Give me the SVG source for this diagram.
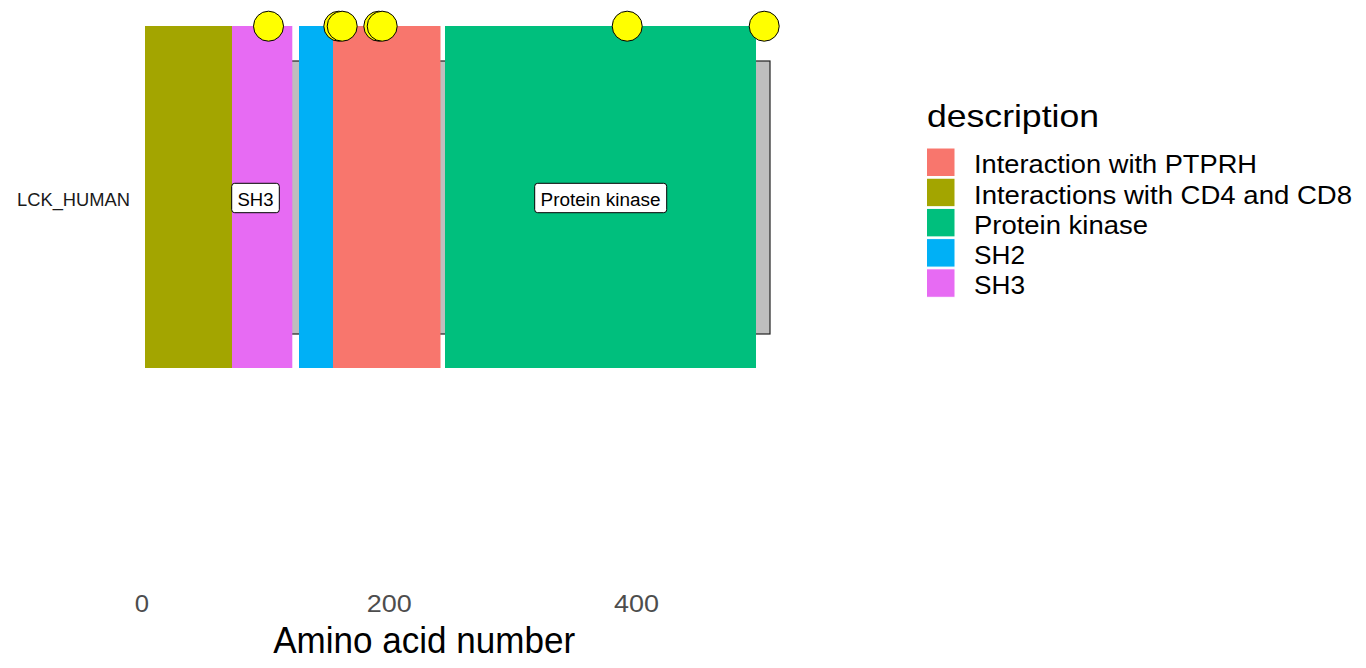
<svg xmlns="http://www.w3.org/2000/svg" width="1366" height="668" viewBox="0 0 1366 668">
<style>
text{font-family:"Liberation Sans",Arial,sans-serif}
.pt{fill:#FFFF00;stroke:#000;stroke-width:1}
.lab{fill:#fff;stroke:#000;stroke-width:1}
.labt{font-size:18px;fill:#000;text-anchor:middle}
.tick{font-size:24px;fill:#4D4D4D;text-anchor:middle}
.leg{font-size:25px;fill:#000}
.key{stroke:#fff;stroke-width:1}
</style>
<rect width="1366" height="668" fill="#fff"/>
<g id="backbone"><rect x="147" y="61" width="623" height="273" fill="#BEBEBE" stroke="#222" stroke-width="1.2"/></g>
<g id="domains">
<rect id="d-cd4cd8" x="145" y="26" width="87" height="342" fill="#A3A500"/>
<rect id="d-sh3" x="232" y="26" width="60.3" height="342" fill="#E76BF3"/>
<rect id="d-sh2" x="299" y="26" width="34" height="342" fill="#00B0F6"/>
<rect id="d-ptprh" x="333" y="26" width="107.5" height="342" fill="#F8766D"/>
<rect id="d-kinase" x="445" y="26" width="311" height="342" fill="#00BF7D"/>
</g>
<g id="sites">
<circle class="pt" cx="268.5" cy="26.2" r="15"/>
<circle class="pt" cx="338.8" cy="26.2" r="15"/>
<circle class="pt" cx="342.2" cy="26.2" r="15"/>
<circle class="pt" cx="378.8" cy="26.2" r="15"/>
<circle class="pt" cx="382.2" cy="26.2" r="15"/>
<circle class="pt" cx="627.2" cy="26.2" r="15"/>
<circle class="pt" cx="764.2" cy="26.2" r="15"/>
</g>
<g id="label-sh3">
<rect class="lab" x="231.7" y="183.3" width="47.6" height="29.4" rx="3"/>
<text class="labt" x="255.5" y="206" textLength="36" lengthAdjust="spacingAndGlyphs">SH3</text>
</g>
<g id="label-kinase">
<rect class="lab" x="534.7" y="183.3" width="132" height="29.4" rx="3"/>
<text class="labt" x="600.5" y="206" textLength="120" lengthAdjust="spacingAndGlyphs">Protein kinase</text>
</g>
<g id="y-axis">
<text x="130" y="206" font-size="18" fill="#1A1A1A" text-anchor="end" textLength="113" lengthAdjust="spacingAndGlyphs">LCK_HUMAN</text>
</g>
<g id="x-axis">
<text class="tick" x="142" y="612" textLength="14.3" lengthAdjust="spacingAndGlyphs">0</text>
<text class="tick" x="389.2" y="612" textLength="45" lengthAdjust="spacingAndGlyphs">200</text>
<text class="tick" x="636.4" y="612" textLength="45" lengthAdjust="spacingAndGlyphs">400</text>
<text x="424.2" y="652.7" font-size="36" fill="#000" text-anchor="middle" textLength="302" lengthAdjust="spacingAndGlyphs">Amino acid number</text>
</g>
<g id="legend">
<text x="927" y="126.7" font-size="32" fill="#000" textLength="172" lengthAdjust="spacingAndGlyphs">description</text>
<rect class="key" x="926.5" y="148" width="28.5" height="28.5" fill="#F8766D"/>
<rect class="key" x="926.5" y="178.2" width="28.5" height="28.5" fill="#A3A500"/>
<rect class="key" x="926.5" y="208.4" width="28.5" height="28.5" fill="#00BF7D"/>
<rect class="key" x="926.5" y="238.6" width="28.5" height="28.5" fill="#00B0F6"/>
<rect class="key" x="926.5" y="268.8" width="28.5" height="28.5" fill="#E76BF3"/>
<text class="leg" x="974" y="173.3" textLength="283" lengthAdjust="spacingAndGlyphs">Interaction with PTPRH</text>
<text class="leg" x="974" y="203.5" textLength="378" lengthAdjust="spacingAndGlyphs">Interactions with CD4 and CD8</text>
<text class="leg" x="974" y="233.7" textLength="174" lengthAdjust="spacingAndGlyphs">Protein kinase</text>
<text class="leg" x="974" y="263.9" textLength="51" lengthAdjust="spacingAndGlyphs">SH2</text>
<text class="leg" x="974" y="294.1" textLength="51" lengthAdjust="spacingAndGlyphs">SH3</text>
</g>
</svg>
